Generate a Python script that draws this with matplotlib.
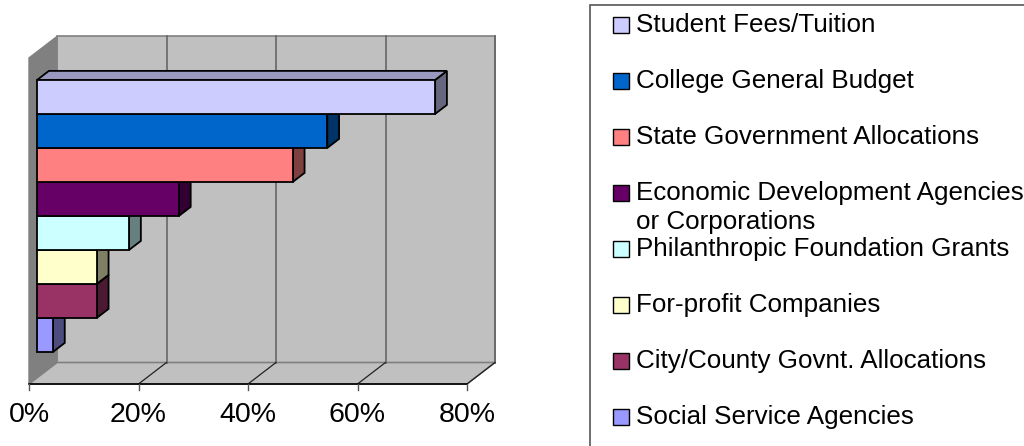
import matplotlib
matplotlib.use("Agg")
import matplotlib.pyplot as plt
from matplotlib.patches import Polygon, Rectangle

plt.rcParams["font.family"] = ["Liberation Sans", "DejaVu Sans"]

# data (percent of respondents), top bar first
sources = [
    "Student Fees/Tuition",
    "College General Budget",
    "State Government Allocations",
    "Economic Development Agencies\nor Corporations",
    "Philanthropic Foundation Grants",
    "For-profit Companies",
    "City/County Govnt. Allocations",
    "Social Service Agencies",
]
values = [72.7, 53.0, 46.7, 25.9, 16.8, 10.9, 10.9, 2.9]
front_colors = ["#CCCCFF", "#0066CC", "#FF8080", "#660066",
                "#CCFFFF", "#FFFFCC", "#993366", "#9999FF"]
ticks = [0, 20, 40, 60, 80]


def shade(hex_color, f):
    r, g, b = (int(hex_color[k:k + 2], 16) for k in (1, 3, 5))
    return "#%02x%02x%02x" % (int(r * f), int(g * f), int(b * f))


W, H = 1024, 446
fig = plt.figure(figsize=(W / 100, H / 100), dpi=100)

# plot area, scales chosen so 20% ~ 109 px and one bar ~ 34 px
PX_X, PX_Y = 5.475, 34.0
ORIG_X, ORIG_Y = 29, 384          # pixel position of front (0%, floor)
AX_W = 540
ax = fig.add_axes([0, 0, AX_W / W, 1])
ax.set_xlim(-ORIG_X / PX_X, (AX_W - ORIG_X) / PX_X)
ax.set_ylim(-(H - ORIG_Y) / PX_Y, ORIG_Y / PX_Y)
ax.axis("off")

DX, DY = 28 / PX_X, 21.5 / PX_Y   # depth offset of the back wall
TOP = 9.59                         # wall height
GAP = 0.76
D0, D1 = 0.29, 0.71
xmax = ticks[-1]

wall = "#C0C0C0"
# back wall, left wall, floor
ax.add_patch(Polygon([(DX, DY), (xmax + DX, DY), (xmax + DX, TOP + DY), (DX, TOP + DY)],
                     closed=True, fc=wall, ec="#808080", lw=1.2, zorder=1))
ax.add_patch(Polygon([(0, 0), (DX, DY), (DX, TOP + DY), (0, TOP)],
                     closed=True, fc="#808080", ec="#808080", lw=1, zorder=1))
ax.add_patch(Polygon([(0, 0), (xmax, 0), (xmax + DX, DY), (DX, DY)],
                     closed=True, fc=wall, ec="#808080", lw=1.2, zorder=1))
for t in ticks[1:]:
    ax.plot([t + DX, t + DX], [DY, TOP + DY], color="#666666", lw=1.2, zorder=2)
    ax.plot([t, t + DX], [0, DY], color="#222222", lw=0.9, zorder=2)
# front axis with ticks
ax.plot([0, xmax], [0, 0], color="black", lw=1.2, zorder=2)
for t in ticks:
    ax.plot([t, t], [0, -0.18], color="#555555", lw=1, zorder=2)
    ax.text(t, -0.91, f"{t}%", ha="center", va="center", fontsize=20.5)

# 3-D bars, drawn bottom-up so upper bars cover lower ones
n = len(values)
for i in range(n - 1, -1, -1):
    v = values[i]
    c = front_colors[i]
    y0 = GAP + (n - 1 - i)
    y1 = y0 + 1
    z = 10 + (n - i) * 3
    side = [(v + D0 * DX, y0 + D0 * DY), (v + D1 * DX, y0 + D1 * DY),
            (v + D1 * DX, y1 + D1 * DY), (v + D0 * DX, y1 + D0 * DY)]
    top = [(D0 * DX, y1 + D0 * DY), (v + D0 * DX, y1 + D0 * DY),
           (v + D1 * DX, y1 + D1 * DY), (D1 * DX, y1 + D1 * DY)]
    ax.add_patch(Polygon(side, closed=True, fc=shade(c, 0.5), ec="black", lw=1.3, zorder=z))
    ax.add_patch(Polygon(top, closed=True, fc=shade(c, 0.75), ec="black", lw=1.3, zorder=z + 1))
    ax.add_patch(Rectangle((D0 * DX, y0 + D0 * DY), v, 1, fc=c, ec="black", lw=1.3, zorder=z + 2))


# legend drawn in pixel units of the figure
def fx(px):
    return px / W


def fy(py):
    return 1 - py / H


fig.patches.append(Rectangle((fx(590), fy(452)), fx(450), (452 - 5) / H,
                             transform=fig.transFigure, fc="white", ec="#555555", lw=1.2))
step = 56.0
for i, (name, c) in enumerate(zip(sources, front_colors)):
    cy = 24 + i * step
    fig.patches.append(Rectangle((fx(613), fy(cy + 9)), 16 / W, 16 / H,
                                 transform=fig.transFigure, fc=c, ec="black", lw=1))
    fig.text(fx(636), fy(cy - 11), name, ha="left", va="top", fontsize=18.7,
             linespacing=1.26)

fig.savefig("out.png", dpi=100)
